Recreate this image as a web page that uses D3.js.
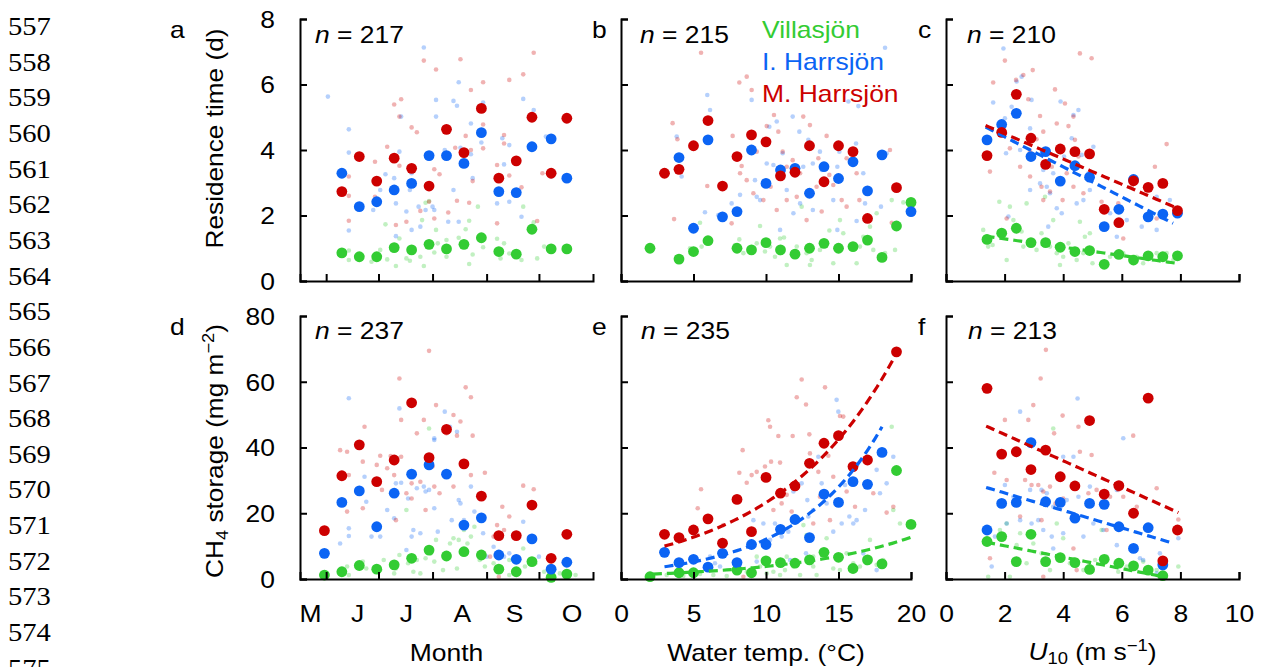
<!DOCTYPE html>
<html>
<head>
<meta charset="utf-8">
<script src="https://cdn.jsdelivr.net/npm/d3@7"></script>
<style>
  body { margin: 0; background: #fff; }
  svg { display: block; }
</style>
</head>
<body>
<svg id="fig" width="1261" height="667"></svg>
<script>
// ---------- categories and tick labels ----------
const lakes = ["Villasjön", "I. Harrsjön", "M. Harrsjön"];
const panelLetters = ["a", "b", "c", "d", "e", "f"];
const sampleSizes = [217, 215, 210, 237, 235, 213];
const monthNames = ["M", "J", "J", "A", "S", "O"];
const monthLabelDays = [143, 170, 198, 230, 260, 293];   // day of year where each month letter sits
const monthStartDays = [152, 182, 213, 244, 274];        // 1 Jun ... 1 Oct
const tempTicks = [0, 5, 10, 15, 20];
const windTicks = [0, 2, 4, 6, 8, 10];
const resTicks = [0, 2, 4, 6, 8];
const storTicks = [0, 20, 40, 60, 80];
const lineNumbers = d3.range(557, 576);

// ---------- binned means ----------
const binDaysRes = [161, 171, 181, 191, 201, 211, 221, 231, 241, 251, 261, 270, 281, 290];
const resMonthV = [0.86, 0.74, 0.74, 1.02, 0.95, 1.12, 0.98, 1.12, 1.32, 0.90, 0.82, 1.58, 0.98, 0.98];
const resMonthI = [3.29, 2.27, 2.42, 2.78, 2.98, 3.83, 3.83, 3.59, 4.53, 2.73, 2.70, 4.10, 4.34, 3.14];
const resMonthM = [2.73, 3.80, 3.05, 3.75, 3.44, 2.90, 4.63, 3.92, 5.27, 3.14, 3.67, 5.00, 3.29, 4.97];

const resTempV = [[2,1.00],[4,0.67],[5,0.90],[6,1.23],[8,1.00],[9,0.95],[10,1.17],[11,0.95],[12,0.82],[13,1.00],[14,1.15],[15,1.00],[16,1.05],[17,1.25],[18,0.72],[19,1.68],[20,2.40]];
const resTempI = [[4,3.77],[5,1.61],[6,4.31],[7,1.96],[8,2.12],[9,4.00],[10,2.98],[11,3.39],[12,3.44],[13,2.68],[14,3.49],[15,3.13],[16,3.64],[17,2.75],[18,3.85],[20,2.12]];
const resTempM = [[3,3.29],[4,3.41],[5,4.13],[6,4.90],[7,2.90],[8,3.80],[9,4.46],[10,4.25],[11,3.21],[12,3.32],[13,4.13],[14,3.03],[15,4.13],[16,3.95],[17,1.91],[19,2.85]];

const windBins = [1.4, 1.9, 2.4, 2.9, 3.4, 3.9, 4.4, 4.9, 5.4, 5.9, 6.4, 6.9, 7.4, 7.9];
const resWindV = [1.27, 1.46, 1.61, 1.17, 1.17, 1.03, 0.90, 0.93, 0.51, 0.81, 0.64, 0.77, 0.74, 0.77];
const resWindI = [4.31, 4.78, 5.12, 3.80, 3.95, 3.05, 3.52, 3.17, 1.66, 2.19, 3.10, 1.96, 2.04, 2.07];
const resWindM = [3.83, 4.54, 5.70, 4.36, 3.56, 4.03, 3.95, 3.88, 2.19, 1.78, 3.06, 2.86, 2.98, 2.15];

const binDaysStor = [151, 161, 171, 181, 191, 201, 211, 221, 231, 241, 251, 261, 270, 281, 290];
const storMonthV = [1.2, 2.2, 4.1, 3.0, 4.3, 6.3, 8.8, 7.0, 8.3, 7.3, 3.0, 2.2, 5.3, 0.5, 1.5];
const storMonthI = [7.8, 23.3, 26.8, 15.9, 26.1, 31.9, 34.7, 31.9, 16.4, 18.6, 7.3, 6.0, 12.2, 3.0, 5.1];
const storMonthM = [14.7, 31.4, 40.8, 29.6, 36.2, 53.6, 36.9, 45.5, 35.0, 25.2, 13.2, 13.2, 22.5, 6.3, 13.6];

const storTempV = [[2,0.7],[4,1.9],[5,1.9],[8,2.7],[9,1.9],[10,5.5],[11,5.0],[12,4.8],[13,5.8],[14,8.1],[15,6.6],[16,3.2],[17,5.8],[18,4.6],[19,33.0],[20,16.6]];
const storTempI = [[3,8.1],[4,5.0],[5,6.0],[6,3.6],[7,7.8],[8,5.0],[9,10.5],[10,10.5],[11,15.1],[12,18.1],[13,12.6],[14,25.8],[15,23.3],[16,29.6],[17,28.8],[18,38.5]];
const storTempM = [[3,13.6],[4,12.6],[5,14.9],[6,18.3],[7,10.9],[8,24.2],[9,14.4],[10,30.9],[11,26.1],[12,28.3],[13,35.2],[14,41.3],[15,43.6],[16,34.2],[17,36.2],[19,69.1]];

const storWindV = [11.4, 12.9, 5.3, 13.6, 5.3, 6.5, 5.0, 2.9, 6.0, 4.8, 4.0, 2.7, 1.0];
const storWindI = [14.9, 23.0, 23.3, 41.5, 23.5, 23.3, 18.5, 23.0, 22.7, 15.9, 9.3, 15.6, 4.3];
const storWindM = [58.0, 38.0, 38.7, 33.3, 39.2, 31.1, 28.3, 48.2, 25.8, 28.4, 20.0, 55.0, 5.5, 14.9];

// ---------- fitted relationships: [coef a, coef b, x from, x to] ----------
// linear: y = a + b*x ; exponential: y = a*exp(b*x)
const resWindFitV = [1.54, -0.127, 1.35, 7.9];
const resWindFitI = [5.32, -0.459, 1.35, 7.75];
const resWindFitM = [5.27, -0.386, 1.35, 7.95];
const storTempFitV = [1.15, 0.12, 2.2, 20.2];
const storTempFitI = [2.25, 0.168, 3, 18];
const storTempFitM = [6.97, 0.1204, 3, 19];
const storWindFitV = [13.58, -1.737, 1.37, 7.53];
const storWindFitI = [31.5, -2.66, 1.37, 7.76];
const storWindFitM = [52.0, -4.01, 1.37, 7.93];

// ---------- individual observations ----------
const resMonthObsV = [[165,0.93],[165,0.64],[178,0.59],[183,0.95],[187,0.66],[186,1.73],[192,0.46],[194,1.30],[200,0.62],[207,1.86],[206,0.74],[208,0.46],[209,2.39],[211,2.44],[214,0.87],[215,1.56],[216,1.15],[221,1.25],[228,1.32],[232,1.58],[234,1.84],[234,0.52],[236,0.81],[239,2.27],[242,1.03],[250,1.29],[252,0.69],[254,1.15],[257,0.84],[264,0.64],[265,2.27],[271,1.79],[273,0.69],[277,1.05],[181,0.66],[198,0.69],[221,0.74]];
const resMonthObsI = [[153,5.63],[165,4.63],[165,3.92],[165,1.54],[208,7.13],[228,6.07],[215,5.53],[225,5.50],[227,5.35],[195,5.02],[215,5.02],[235,4.81],[241,4.23],[242,5.45],[220,4.00],[229,4.07],[235,3.87],[194,3.95],[186,3.26],[191,3.14],[183,2.78],[179,2.17],[192,2.37],[200,2.78],[205,2.27],[198,2.12],[209,2.17],[213,2.27],[214,2.17],[201,1.56],[206,1.66],[222,1.81],[225,2.78],[228,1.81],[236,3.14],[253,4.36],[257,4.15],[265,5.56],[271,5.22],[254,3.56],[250,2.37],[257,2.42],[264,1.96],[278,4.41],[281,3.19],[201,3.29],[192,1.37]];
const resMonthObsM = [[208,6.73],[215,6.46],[229,6.77],[242,6.07],[235,5.83],[191,5.39],[195,5.55],[194,5.02],[201,4.69],[204,4.54],[187,4.10],[180,3.64],[194,3.52],[214,3.41],[217,3.26],[226,4.07],[232,4.43],[235,4.00],[236,3.05],[242,4.78],[242,4.05],[250,3.54],[254,4.46],[254,4.20],[257,3.22],[257,6.14],[265,6.31],[271,6.97],[264,2.86],[273,1.83],[276,3.29],[227,2.45],[222,2.09],[214,1.91],[206,2.14],[198,1.81],[192,1.71],[165,1.84],[165,3.19],[165,2.60],[211,2.42],[250,1.76],[234,2.39],[180,2.57]];

const resTempObsV = [[5.45,1.78],[5.56,1.05],[4.76,1.00],[7.86,1.10],[8.16,1.27],[8.44,0.85],[9.59,1.68],[9.93,0.90],[10.28,1.05],[10.62,0.74],[10.97,1.30],[11.24,1.33],[11.43,0.49],[12.12,1.05],[12.46,2.27],[12.80,0.85],[13.03,0.49],[13.15,0.64],[13.72,0.95],[14.37,1.54],[14.64,0.54],[14.99,1.05],[15.10,1.86],[15.33,1.46],[16.25,0.54],[16.48,1.05],[16.71,1.35],[17.17,1.66],[17.40,0.95],[17.63,2.07],[18.21,0.85],[18.67,2.47],[18.90,0.95],[19.47,2.40],[10.97,0.85],[9.36,1.15]];
const resTempObsI = [[3.84,4.41],[4.18,3.19],[5.95,5.68],[6.14,5.22],[5.79,2.10],[6.71,2.01],[9.01,5.53],[9.36,2.57],[9.24,3.08],[9.59,2.47],[10.05,3.59],[10.23,4.71],[10.74,4.87],[11.15,3.90],[11.84,5.02],[12.30,4.56],[12.57,3.49],[12.92,4.31],[13.23,3.59],[13.72,3.95],[13.84,3.39],[14.64,2.47],[14.92,3.49],[15.06,3.95],[15.68,5.48],[16.21,4.20],[16.37,5.34],[16.71,3.29],[16.83,2.37],[17.93,2.27],[18.21,7.12],[18.32,3.90],[16.25,1.83],[14.92,1.56],[13.23,2.17],[11.89,2.07],[10.97,1.56],[12.35,2.37],[8.21,2.63],[7.63,2.37],[10.51,3.54],[11.43,2.78]];
const resTempObsM = [[5.52,6.97],[3.56,4.82],[3.89,4.33],[5.95,2.90],[3.66,1.89],[8.16,6.06],[8.67,6.24],[9.01,5.83],[7.70,4.43],[8.32,3.51],[9.36,3.95],[10.05,4.73],[10.55,5.07],[10.85,4.56],[11.15,3.95],[11.43,3.49],[11.84,3.69],[12.57,5.02],[12.80,4.10],[13.03,4.76],[13.61,3.75],[14.18,4.43],[14.37,3.24],[14.64,2.93],[14.92,4.10],[15.56,3.75],[16.25,3.29],[16.44,2.47],[18.55,4.0],[18.67,1.78],[11.43,2.47],[12.12,2.57],[10.74,2.17],[9.13,2.68],[8.67,3.08],[10.32,2.88],[12.80,1.86],[13.49,2.88],[12.35,3.29],[8.21,3.29],[9.82,2.47],[7.63,1.76],[15.56,2.27],[13.84,2.12],[15.22,2.47]];

const resWindObsV = [[1.27,1.56],[1.44,1.05],[1.59,1.10],[1.82,2.42],[2.07,0.64],[2.18,2.27],[2.30,1.86],[2.58,1.51],[2.64,1.05],[2.87,1.25],[3.09,0.95],[3.26,1.46],[3.38,2.57],[3.55,1.05],[3.66,1.86],[3.78,0.85],[3.89,0.49],[4.00,0.74],[4.18,1.15],[4.46,0.64],[4.57,1.81],[4.74,1.35],[4.91,1.46],[5.00,0.54],[4.69,0.85],[5.60,0.74],[6.05,0.85],[6.51,0.74],[6.73,0.54],[7.19,0.85],[7.53,0.85],[7.76,0.64],[2.75,2.37],[2.01,1.46]];
const resWindObsI = [[1.96,7.10],[2.41,6.09],[2.58,6.24],[1.61,5.45],[2.01,4.97],[2.05,3.90],[2.24,5.32],[2.53,4.00],[2.92,5.53],[2.87,4.66],[3.26,3.90],[3.32,3.39],[3.44,2.88],[3.66,3.29],[3.91,5.48],[3.78,2.22],[4.03,3.80],[4.29,4.36],[4.35,5.07],[4.52,5.22],[4.63,3.85],[4.86,3.29],[5.03,4.10],[2.87,2.78],[3.21,2.98],[3.55,2.68],[3.95,2.07],[3.49,1.66],[4.46,2.37],[4.91,2.78],[5.60,2.07],[5.83,1.35],[6.17,1.86],[6.68,1.66],[7.19,1.56],[7.19,2.57],[7.64,2.47],[4.97,3.80],[2.13,1.97],[4.69,2.47]];
const resWindObsM = [[1.61,6.06],[2.01,6.73],[2.39,6.14],[2.64,6.29],[2.96,6.44],[2.81,5.55],[3.21,5.04],[3.32,4.56],[3.72,5.85],[3.78,4.81],[4.06,5.42],[4.18,4.73],[4.35,5.02],[4.57,6.95],[4.97,6.80],[4.40,4.31],[4.52,3.80],[3.09,4.33],[2.87,3.95],[2.53,3.49],[2.87,3.19],[3.26,2.88],[3.55,2.73],[3.32,2.47],[3.98,2.47],[4.35,2.88],[4.69,2.68],[4.97,3.29],[5.31,2.42],[5.88,2.37],[6.05,1.30],[6.34,2.88],[7.13,3.49],[7.19,1.91],[7.53,4.18],[1.50,3.34],[2.07,1.91],[2.18,4.05],[3.61,3.49],[4.12,3.29]];

const storMonthObsV = [[164,3.8],[165,1.2],[173,5.3],[175,3.2],[183,2.7],[185,5.8],[191,1.7],[192,3.2],[194,7.3],[198,21.0],[199,4.8],[202,2.2],[204,5.8],[206,1.7],[209,6.3],[212,7.8],[211,45.8],[214,5.3],[215,11.9],[219,2.7],[223,10.8],[225,12.4],[227,3.2],[228,11.9],[231,14.9],[233,10.8],[235,12.9],[237,15.9],[240,5.8],[243,3.8],[248,4.8],[252,7.8],[257,5.8],[257,1.2],[260,1.7],[265,9.3],[272,4.8],[277,2.2],[286,1.7],[295,1.2],[266,3.8]];
const storMonthObsI = [[165,55.0],[165,15.4],[165,13.1],[160,10.8],[174,31.1],[175,23.5],[178,12.9],[183,12.9],[187,21.0],[191,18.5],[192,29.1],[194,51.9],[195,29.3],[199,24.5],[201,12.9],[204,27.6],[206,13.9],[208,28.1],[209,26.6],[211,27.1],[214,42.3],[214,42.8],[214,21.5],[216,14.4],[220,50.9],[223,46.3],[224,17.9],[227,44.8],[228,24.0],[229,23.0],[231,17.9],[235,28.1],[237,20.5],[242,13.9],[244,6.8],[248,9.8],[254,6.8],[257,7.8],[265,17.4],[274,6.8],[202,14.9],[198,8.8]];
const storMonthObsM = [[160,39.2],[164,38.7],[165,31.6],[164,20.5],[174,46.3],[173,35.7],[173,21.5],[183,37.5],[181,34.7],[184,27.1],[187,33.7],[189,37.4],[191,31.6],[192,17.9],[194,61.0],[195,48.4],[195,37.2],[198,26.1],[201,24.5],[204,44.3],[208,48.4],[209,21.0],[211,69.4],[213,34.2],[214,28.1],[215,52.9],[221,44.3],[225,49.9],[225,28.1],[229,47.9],[227,43.6],[232,58.3],[235,55.3],[235,31.6],[236,43.6],[243,32.3],[250,16.4],[253,22.0],[254,14.9],[257,19.0],[265,28.4],[271,27.3],[201,29.1],[206,29.6],[217,26.1],[240,25.0],[248,12.9],[246,6.8],[251,0.7]];

const storTempObsV = [[3.15,1.2],[4.30,0.9],[5.45,1.5],[6.37,1.2],[7.29,0.9],[8.67,2.2],[9.36,6.8],[9.59,3.8],[10.05,1.7],[10.51,2.2],[10.97,1.2],[11.31,2.7],[11.89,3.8],[12.58,16.4],[12.80,13.4],[13.26,3.8],[13.49,1.2],[14.18,12.4],[14.64,3.2],[15.10,2.7],[15.56,7.8],[16.02,4.8],[16.48,3.8],[16.94,4.8],[17.17,11.9],[17.63,4.3],[18.09,5.8],[18.67,46.3],[18.78,21.0],[19.24,16.9],[11.43,6.8],[12.35,1.2],[13.26,6.8]];
const storTempObsI = [[6.14,6.8],[6.48,4.8],[6.83,3.8],[8.21,3.2],[9.13,17.9],[9.36,5.3],[9.82,16.9],[10.28,11.9],[10.62,16.9],[11.08,12.9],[11.54,14.4],[11.89,26.6],[12.23,17.9],[12.46,29.1],[12.85,24.0],[12.92,19.0],[13.26,21.0],[13.61,37.2],[13.84,29.1],[14.18,23.0],[14.64,14.4],[14.87,54.5],[14.99,50.9],[15.22,16.9],[15.45,28.6],[15.75,19.0],[16.02,16.9],[16.25,17.9],[16.71,7.8],[16.83,21.0],[17.63,33.2],[18.32,29.1],[18.78,37.2],[17.86,26.1],[17.63,2.7],[11.66,5.8],[12.76,7.8]];
const storTempObsM = [[5.52,27.3],[5.29,21.5],[7.06,16.4],[8.16,32.3],[8.39,39.2],[8.67,29.3],[9.01,31.6],[9.93,34.2],[10.16,48.3],[10.28,46.3],[10.35,35.7],[10.85,43.5],[10.97,35.4],[11.08,23.0],[11.43,25.6],[11.84,43.5],[12.12,55.3],[12.46,60.7],[12.76,53.1],[12.99,44.0],[13.03,38.2],[13.61,32.6],[14.07,58.3],[14.30,37.5],[14.41,17.9],[15.10,49.6],[15.33,49.4],[15.56,26.6],[16.14,22.0],[16.94,28.1],[17.40,26.1],[18.32,20.2],[18.78,22.0],[8.44,0.7],[9.36,32.6],[10.51,21.0],[11.77,20.5],[13.26,16.9],[13.72,25.0],[14.64,31.1]];

const storWindObsV = [[3.66,45.8],[1.44,0.7],[2.07,16.9],[2.53,13.9],[2.41,10.3],[2.75,4.8],[2.98,10.8],[3.26,7.8],[3.78,16.9],[4.00,12.4],[4.23,4.8],[4.69,2.7],[5.09,5.8],[5.31,14.9],[5.48,6.8],[5.88,2.2],[6.17,3.8],[6.73,5.3],[7.19,2.7],[7.93,3.8],[1.84,14.9],[3.55,2.7],[2.18,0.7]];
const storWindObsI = [[4.49,54.9],[2.53,50.9],[4.00,37.2],[4.35,37.2],[2.01,28.6],[2.30,25.0],[2.87,27.1],[3.26,27.1],[3.44,26.1],[3.66,22.0],[4.12,24.0],[4.52,25.0],[4.91,28.1],[5.37,22.0],[5.83,27.1],[6.05,42.8],[5.03,16.9],[4.69,12.9],[4.00,13.9],[3.61,12.9],[3.15,17.9],[2.92,16.9],[2.53,17.9],[2.07,16.9],[1.67,12.9],[1.56,3.8],[5.37,14.9],[5.83,10.3],[6.62,6.3],[6.73,5.8],[7.30,7.8],[7.19,1.7],[7.93,12.4],[5.83,3.8],[3.66,9.3],[3.32,14.9]];
const storWindObsM = [[3.41,69.7],[3.23,61.0],[2.98,52.9],[2.01,48.4],[2.81,48.4],[3.98,49.7],[3.69,44.3],[4.52,46.3],[4.97,37.7],[4.57,38.7],[6.39,43.6],[2.07,30.1],[1.65,32.3],[2.70,30.1],[2.92,28.6],[3.15,28.6],[3.32,26.6],[3.55,28.1],[3.74,23.0],[4.00,24.5],[4.46,28.1],[4.86,26.1],[5.14,27.1],[5.60,25.0],[5.88,27.1],[6.05,25.0],[6.51,22.0],[7.19,27.6],[7.93,18.1],[1.50,6.3],[2.53,19.0],[3.26,17.9],[4.35,9.3],[5.48,14.9],[3.32,0.7],[4.46,2.7]];

// ---------- styling ----------
const lakeColors = ["#33cc33", "#0b64f4", "#cc0000"];
const FONT = "'Liberation Sans', Arial, Helvetica, sans-serif";
const SERIF = "'Liberation Serif', 'Times New Roman', serif";
const SX = 1.15;          // horizontal glyph stretch of the figure lettering
const FS = 23;

const svg = d3.select("#fig");

// ---------- scales ----------
const xMonth = d3.scaleLinear().domain([137, 305]).range([300, 593]);
const xTemp  = d3.scaleLinear().domain([0, 20]).range([621, 911]);
const xWind  = d3.scaleLinear().domain([0, 10]).range([946, 1239]);
const yRes   = d3.scaleLinear().domain([0, 8]).range([281, 19]);
const yStor  = d3.scaleLinear().domain([0, 80]).range([579, 316]);

const zip = (xs, ys) => ys.map((v, i) => [xs[i], v]);
const linear = f => x => f[0] + f[1] * x;
const expo = f => x => f[0] * Math.exp(f[1] * x);

// ---------- text helper ----------
function label(parent, x, y, parts, o = {}) {
  const t = parent.append("text")
    .attr("transform", `translate(${x},${y})` + (o.rot ? ` rotate(${o.rot})` : "") + ` scale(${o.sx || SX},1)`)
    .attr("font-family", o.font || FONT)
    .attr("font-size", o.size || FS)
    .attr("text-anchor", o.anchor || "start")
    .attr("fill", o.fill || "#000");
  parts.forEach(p => {
    const s = t.append("tspan").text(typeof p === "string" ? p : p.t);
    if (typeof p !== "string") {
      if (p.italic) s.attr("font-style", "italic");
      if (p.size) s.attr("font-size", p.size);
      if (p.dy) s.attr("dy", p.dy);
    }
  });
  return t;
}

// ---------- panel drawing ----------
function drawPanel(p) {
  const g = svg.append("g");

  // individual observations (pale)
  p.obs.forEach((arr, i) => {
    g.append("g").selectAll("circle").data(arr).join("circle")
      .attr("cx", d => p.x(d[0])).attr("cy", d => p.y(d[1])).attr("r", 2.3)
      .attr("fill", lakeColors[i]).attr("fill-opacity", 0.3);
  });

  // binned means
  p.means.forEach((arr, i) => {
    g.append("g").selectAll("circle").data(arr).join("circle")
      .attr("cx", d => p.x(d[0])).attr("cy", d => p.y(d[1])).attr("r", 5.4)
      .attr("fill", lakeColors[i]);
  });

  // fitted curves
  if (p.fits) {
    p.fits.forEach((f, i) => {
      const fn = p.fitType(f);
      const pts = d3.range(0, 61).map(k => {
        const xv = f[2] + (f[3] - f[2]) * k / 60;
        return [xv, fn(xv)];
      });
      g.append("path")
        .attr("d", d3.line().x(d => p.x(d[0])).y(d => p.y(d[1]))(pts))
        .attr("fill", "none").attr("stroke", lakeColors[i])
        .attr("stroke-width", 3.2).attr("stroke-dasharray", "9,5");
    });
  }

  // axes with inward ticks
  const gx = g.append("g").attr("transform", `translate(0,${p.y.range()[0]})`)
    .call(d3.axisBottom(p.x).tickValues(p.xTicks).tickSize(-7).tickSizeOuter(-7)
      .tickFormat(p.xLabels ? d3.format("d") : () => ""));
  const gy = g.append("g").attr("transform", `translate(${p.x.range()[0]},0)`)
    .call(d3.axisLeft(p.y).tickValues(p.yTicks).tickSize(-7).tickSizeOuter(-7)
      .tickFormat(p.yLabels ? d3.format("d") : () => ""));
  [gx, gy].forEach(a => {
    a.attr("font-family", FONT).attr("font-size", FS);
    a.select(".domain").attr("stroke-width", 2);
    a.selectAll(".tick line").attr("stroke-width", 2);
    a.selectAll(".tick text").attr("fill", "#000");
  });
  gx.selectAll(".tick text").attr("y", null).attr("dy", null)
    .attr("transform", `translate(0,43) scale(${SX},1)`);
  gy.selectAll(".tick text").attr("x", null).attr("dy", "0.36em")
    .attr("transform", `translate(-25,0) scale(${SX},1)`);

  // panel letter and sample size
  label(g, p.letterX, p.letterY, [p.letter]);
  label(g, p.nX, p.nY, [{ t: "n", italic: true }, " = " + p.n]);
  return g;
}

const panels = [
  { letter: panelLetters[0], n: sampleSizes[0], x: xMonth, y: yRes,
    obs: [resMonthObsV, resMonthObsI, resMonthObsM],
    means: [zip(binDaysRes, resMonthV), zip(binDaysRes, resMonthI), zip(binDaysRes, resMonthM)],
    xTicks: monthStartDays, yTicks: resTicks, xLabels: false, yLabels: true,
    letterX: 170, letterY: 38, nX: 315, nY: 43 },
  { letter: panelLetters[1], n: sampleSizes[1], x: xTemp, y: yRes,
    obs: [resTempObsV, resTempObsI, resTempObsM],
    means: [resTempV, resTempI, resTempM],
    xTicks: tempTicks, yTicks: resTicks, xLabels: false, yLabels: false,
    letterX: 592, letterY: 38, nX: 640, nY: 43 },
  { letter: panelLetters[2], n: sampleSizes[2], x: xWind, y: yRes,
    obs: [resWindObsV, resWindObsI, resWindObsM],
    means: [zip(windBins, resWindV), zip(windBins, resWindI), zip(windBins, resWindM)],
    fits: [resWindFitV, resWindFitI, resWindFitM], fitType: linear,
    xTicks: windTicks, yTicks: resTicks, xLabels: false, yLabels: false,
    letterX: 918, letterY: 38, nX: 967, nY: 43 },
  { letter: panelLetters[3], n: sampleSizes[3], x: xMonth, y: yStor,
    obs: [storMonthObsV, storMonthObsI, storMonthObsM],
    means: [zip(binDaysStor, storMonthV), zip(binDaysStor, storMonthI), zip(binDaysStor, storMonthM)],
    xTicks: monthStartDays, yTicks: storTicks, xLabels: false, yLabels: true,
    letterX: 170, letterY: 335, nX: 315, nY: 339 },
  { letter: panelLetters[4], n: sampleSizes[4], x: xTemp, y: yStor,
    obs: [storTempObsV, storTempObsI, storTempObsM],
    means: [storTempV, storTempI, storTempM],
    fits: [storTempFitV, storTempFitI, storTempFitM], fitType: expo,
    xTicks: tempTicks, yTicks: storTicks, xLabels: true, yLabels: false,
    letterX: 592, letterY: 335, nX: 641, nY: 339 },
  { letter: panelLetters[5], n: sampleSizes[5], x: xWind, y: yStor,
    obs: [storWindObsV, storWindObsI, storWindObsM],
    means: [zip(windBins, storWindV), zip(windBins, storWindI), zip(windBins, storWindM)],
    fits: [storWindFitV, storWindFitI, storWindFitM], fitType: linear,
    xTicks: windTicks, yTicks: storTicks, xLabels: true, yLabels: false,
    letterX: 918, letterY: 335, nX: 968, nY: 339 }
];
panels.forEach(drawPanel);

// month letters under panel d
const monthAxis = svg.append("g");
monthNames.forEach((m, i) => {
  label(monthAxis, xMonth(monthLabelDays[i]), 622, [m], { anchor: "middle" });
});

// axis titles
const titles = svg.append("g");
label(titles, 223, 138.5, ["Residence time (d)"], { rot: -90, anchor: "middle", sx: 1.14 });
label(titles, 223, 451, ["CH", { t: "4", size: 16, dy: 5 }, { t: " storage (mg m", dy: -5 },
  { t: "\u22122", size: 16, dy: -9 }, { t: ")", dy: 9 }], { rot: -90, anchor: "middle", sx: 1.14 });
label(titles, (xMonth.range()[0] + xMonth.range()[1]) / 2, 661, ["Month"], { anchor: "middle" });
label(titles, (xTemp.range()[0] + xTemp.range()[1]) / 2, 661, ["Water temp. (\u00b0C)"], { anchor: "middle" });
label(titles, (xWind.range()[0] + xWind.range()[1]) / 2, 660,
  [{ t: "U", italic: true }, { t: "10", size: 16, dy: 3.5 }, { t: " (m s", dy: -3.5 },
   { t: "\u22121", size: 16, dy: -9 }, { t: ")", dy: 9 }], { anchor: "middle" });

// legend
const legend = svg.append("g");
lakes.forEach((name, i) => {
  label(legend, 762, 38 + i * 32, [name], { fill: lakeColors[i] });
});

// manuscript line numbers
const numbers = svg.append("g");
lineNumbers.forEach((num, i) => {
  label(numbers, 8, 35 + i * 35.65, [String(num)], { font: SERIF, size: 26, sx: 1.1 });
});
</script>
</body>
</html>
